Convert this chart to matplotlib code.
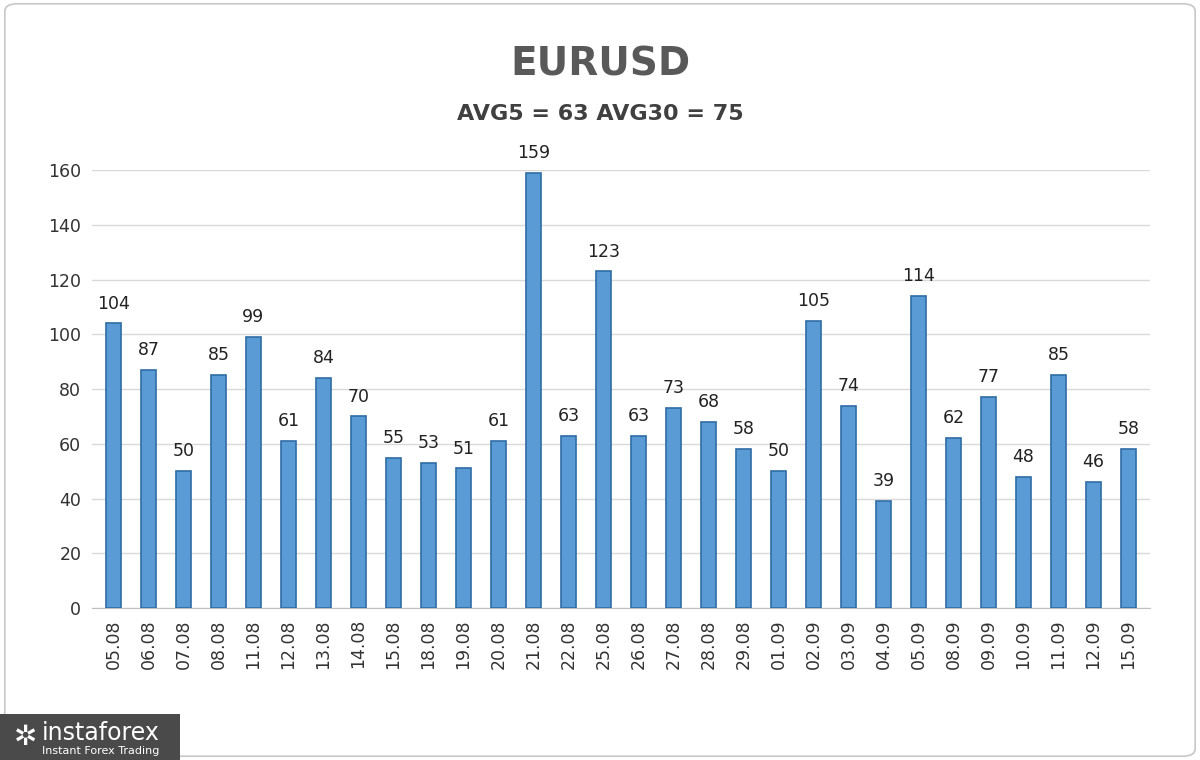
import matplotlib
matplotlib.use("Agg")
import matplotlib.pyplot as plt
from matplotlib.patches import FancyBboxPatch

dates = ["05.08","06.08","07.08","08.08","11.08","12.08","13.08","14.08","15.08","18.08",
         "19.08","20.08","21.08","22.08","25.08","26.08","27.08","28.08","29.08","01.09",
         "02.09","03.09","04.09","05.09","08.09","09.09","10.09","11.09","12.09","15.09"]
values = [104,87,50,85,99,61,84,70,55,53,51,61,159,63,123,63,73,68,58,50,105,74,39,114,62,77,48,85,46,58]
yticks = [0,20,40,60,80,100,120,140,160]

fig = plt.figure(figsize=(12,7.6), dpi=100)
fig.patch.set_facecolor("white")
fig.patches.append(FancyBboxPatch((0.004,0.005),0.992,0.99,boxstyle="round,pad=0,rounding_size=0.01",
                                  transform=fig.transFigure, fill=False, ec="#c8c8c8", lw=1.2))
ax = fig.add_axes([0.077,0.2,0.881,0.576])
x = range(len(values))
ax.bar(x, values, width=0.42, color="#5b9bd5", edgecolor="#2e6da4", linewidth=1.2, zorder=3)
for i, v in zip(x, values):
    ax.text(i, v+4, str(v), ha="center", va="bottom", fontsize=12.5, color="#222222")
ax.set_ylim(0,160)
ax.set_xlim(-0.6, len(values)-0.4)
ax.set_yticks(yticks)
ax.set_yticklabels([str(t) for t in yticks], fontsize=12.5, color="#333333")
ax.set_xticks(list(x))
ax.set_xticklabels(dates, rotation=90, fontsize=12.5, color="#333333")
ax.grid(axis="y", color="#d9d9d9", lw=1, zorder=0)
for s in ["top","right","left"]:
    ax.spines[s].set_visible(False)
ax.spines["bottom"].set_color("#bfbfbf")
ax.tick_params(length=0, pad=8)
fig.text(0.5, 0.915, "EURUSD", ha="center", va="center", fontsize=28, fontweight="bold", color="#595959")
fig.text(0.5, 0.85, "AVG5 = 63 AVG30 = 75", ha="center", va="center", fontsize=16, fontweight="bold", color="#404040")
fig.patches.append(FancyBboxPatch((0.0,0.0),0.15,0.06, boxstyle="square,pad=0", transform=fig.transFigure,
                                  fc="#4a4a4a", ec="none"))
fig.text(0.035,0.036,"instaforex", fontsize=17, color="white", va="center")
fig.text(0.035,0.012,"Instant Forex Trading", fontsize=8, color="white", va="center")
fig.text(0.012,0.03,"✲", fontsize=20, color="white", va="center", family="DejaVu Sans")
fig.savefig("out.png", dpi=100)
